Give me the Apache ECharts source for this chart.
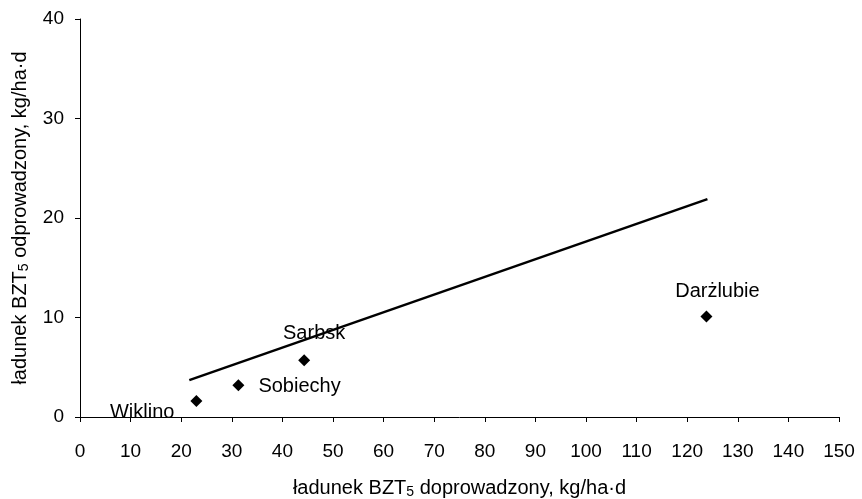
<!DOCTYPE html>
<html>
<head>
<meta charset="utf-8">
<script src="https://cdn.jsdelivr.net/npm/echarts@6/dist/echarts.min.js"></script>
<style>
  html, body { margin: 0; padding: 0; background: #fff; }
  #chart { width: 862px; height: 499px; }
</style>
</head>
<body>
<div id="chart"></div>
<script>
// sites and their BZT5 loads (x: supplied, y: discharged), kg/ha·d
const siteNames = ['Wiklino', 'Sobiechy', 'Sarbsk', 'Darżlubie']
const loadIn = [23, 31.3, 44.3, 123.8]
const loadOut = [1.6, 3.2, 5.7, 10.1]

// trend line end points
const trendX = [21.6, 124]
const trendY = [3.7, 21.9]

const xTicks = { min: 0, max: 150, interval: 10 }
const yTicks = { min: 0, max: 40, interval: 10 }

// label placement per site
const labelPos = {
  Wiklino: { position: 'left', offset: [-11, 11] },
  Sobiechy: { position: 'right', offset: [9, 1] },
  Sarbsk: { position: 'top', offset: [10, -6] },
  Darżlubie: { position: 'top', offset: [11, -4] },
}

const font = 'Liberation Sans, Arial, sans-serif'
const chart = echarts.init(document.getElementById('chart'))

const axisCommon = {
  type: 'value',
  nameLocation: 'middle',
  splitLine: { show: false },
  axisLine: { show: true, lineStyle: { color: '#000', width: 1 } },
  axisTick: { show: true, length: 5, lineStyle: { color: '#000' } },
  axisLabel: { color: '#000', fontSize: 19, fontFamily: font },
}

const nameStyle = {
  color: '#000',
  fontSize: 20,
  fontFamily: font,
  rich: {
    sub: { fontSize: 14, verticalAlign: 'bottom', padding: [8, 0, 0, 0], fontFamily: font, color: '#000' },
  },
}

const option = {
  backgroundColor: '#fff',
  animation: false,
  grid: { left: 80, right: 23, top: 19, bottom: 82, containLabel: false, outerBoundsMode: 'none' },
  xAxis: {
    ...axisCommon,
    ...xTicks,
    name: 'ładunek BZT{sub|5} doprowadzony, kg/ha·d',
    nameGap: 60,
    nameTextStyle: nameStyle,
    axisLabel: { ...axisCommon.axisLabel, margin: 25 },
  },
  yAxis: {
    ...axisCommon,
    ...yTicks,
    name: 'ładunek BZT{sub|5} odprowadzony, kg/ha·d',
    nameGap: 49,
    nameTextStyle: nameStyle,
    axisLabel: { ...axisCommon.axisLabel, margin: 16 },
  },
  series: [
    {
      type: 'line',
      data: trendX.map((x, i) => [x, trendY[i]]),
      showSymbol: false,
      lineStyle: { color: '#000', width: 2.5 },
      z: 2,
    },
    {
      type: 'scatter',
      symbol: 'diamond',
      symbolSize: 12,
      itemStyle: { color: '#000', opacity: 1 },
      data: siteNames.map((n, i) => ({
        name: n,
        value: [loadIn[i], loadOut[i]],
        label: {
          show: true,
          formatter: n,
          color: '#000',
          fontSize: 20,
          fontFamily: font,
          ...labelPos[n],
        },
      })),
      z: 3,
    },
  ],
}

chart.setOption(option)
</script>
</body>
</html>
